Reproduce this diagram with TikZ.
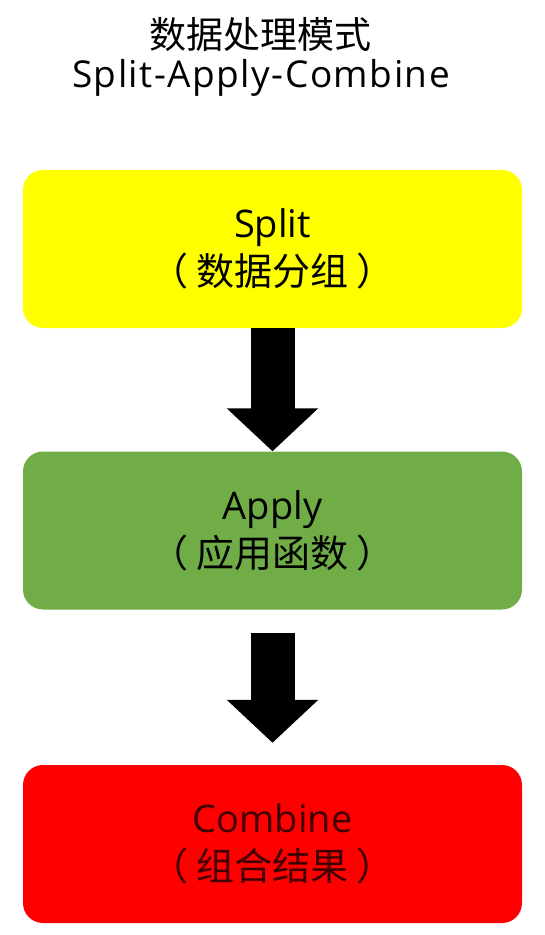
\documentclass[tikz,border=0pt]{standalone}
\usepackage{fontspec}
\setmainfont{Open Sans}
\newfontfamily\titlelatin{Open Sans}[LetterSpace=4]
\newfontfamily\cjk{Noto Sans CJK SC}
\usetikzlibrary{arrows.meta}
\definecolor{splityellow}{RGB}{255,255,0}
\definecolor{applygreen}{RGB}{112,173,71}
\definecolor{combinered}{RGB}{255,0,0}
\definecolor{combinetext}{RGB}{64,0,0}
\newcommand{\paren}[1]{{\cjk （\hspace{8pt}#1\hspace{8pt}）}}

\begin{document}
\begin{tikzpicture}[x=1pt, y=-1pt]
      \tikzstyle{stage} = [rectangle, rounded corners = 20pt, minimum width = 499pt, minimum height = 158pt, inner sep = 0pt, align=center, font=\fontsize{38}{48}\selectfont, execute at begin node={\rule{0pt}{35pt}}]
      \tikzstyle{flow} = [line width = 44pt, -{Triangle[width=89pt,length=43pt]}]

      \useasboundingbox (0,0) rectangle (545,935);

      \node[align=center, font=\fontsize{37}{39}\selectfont] (title) at (261, 57) {{\cjk 数据处理模式}\\{\titlelatin Split-Apply-Combine}};

      \node[stage, fill=splityellow] (split) at (272.5, 249) {Split\\\paren{数据分组}};
      \node[stage, fill=applygreen] (apply) at (272.5, 530.5) {Apply\\\paren{应用函数}};
      \node[stage, fill=combinered, text=combinetext] (combine) at (272.5, 844) {Combine\\\paren{组合结果}};

      \draw[flow] (split.south) to (apply.north);
      \draw[flow] ([yshift=-23pt]apply.south) to ([yshift=22pt]combine.north);
\end{tikzpicture}
\end{document}
